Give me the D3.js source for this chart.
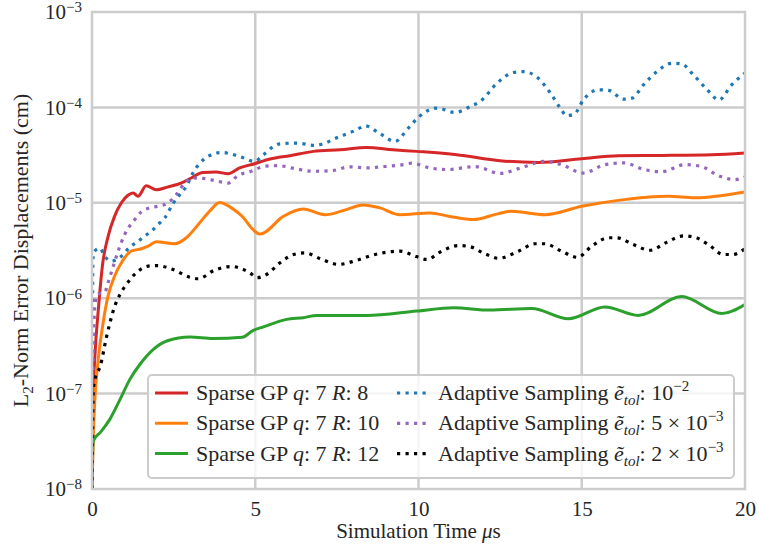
<!DOCTYPE html>
<html>
<head>
<meta charset="UTF-8">
<script src="https://d3js.org/d3.v7.min.js"></script>
</head>
<body style="margin:0">
<svg id="chart" width="757" height="548" font-family="Liberation Serif"></svg>
<script>
// --- data (t in µs, error in cm) ---
const sparseR8 = [[0,1e-8],[0.04,1e-7],[0.09,2.5e-7],[0.2,8e-7],[0.32,2.2e-6],[0.49,4.4e-6],[0.69,7.2e-6],[0.9,1.0e-5],[1.1,1.2e-5],[1.26,1.27e-5],[1.41,1.17e-5],[1.66,1.51e-5],[1.97,1.37e-5],[2.33,1.47e-5],[2.73,1.61e-5],[3.04,1.82e-5],[3.4,2.08e-5],[3.8,2.1e-5],[4.17,2.02e-5],[4.52,2.32e-5],[4.98,2.57e-5],[5.45,2.88e-5],[6.06,3.12e-5],[6.78,3.46e-5],[7.6,3.6e-5],[8.41,3.81e-5],[9.22,3.6e-5],[9.94,3.46e-5],[11.17,3.19e-5],[12.5,2.76e-5],[13.67,2.65e-5],[15.0,2.9e-5],[16.12,3.12e-5],[17.45,3.14e-5],[18.98,3.19e-5],[20,3.33e-5]];
const sparseR10 = [[0,1e-8],[0.04,3.5e-8],[0.09,9e-8],[0.18,2.1e-7],[0.34,5.5e-7],[0.49,1.05e-6],[0.69,1.7e-6],[0.9,2.35e-6],[1.2,3.11e-6],[1.51,3.3e-6],[1.72,3.51e-6],[1.97,3.9e-6],[2.53,3.72e-6],[2.89,4.3e-6],[3.25,5.9e-6],[3.6,8.15e-6],[3.91,1.01e-5],[4.27,8.85e-6],[4.62,7.1e-6],[4.93,5.25e-6],[5.15,4.7e-6],[5.86,7.2e-6],[6.47,8.6e-6],[7.14,7.5e-6],[7.7,8.3e-6],[8.31,9.5e-6],[8.82,8.85e-6],[9.43,7.5e-6],[10.35,7.83e-6],[10.96,7.2e-6],[11.68,6.67e-6],[12.45,7.7e-6],[12.85,8.15e-6],[13.87,7.5e-6],[15.0,9.2e-6],[16.12,1.06e-5],[17.65,1.17e-5],[18.47,1.13e-5],[20,1.3e-5]];
const sparseR12 = [[0,1e-8],[0.03,3e-8],[0.07,3.33e-8],[0.25,3.9e-8],[0.55,5.4e-8],[0.86,8.7e-8],[1.16,1.41e-7],[1.47,2.03e-7],[1.88,2.91e-7],[2.29,3.56e-7],[3.0,3.92e-7],[3.71,3.77e-7],[4.6,3.9e-7],[4.94,4.6e-7],[5.25,5e-7],[5.96,6.0e-7],[6.47,6.25e-7],[6.88,6.6e-7],[8.41,6.6e-7],[9.94,7.33e-7],[11.07,7.96e-7],[12.19,7.5e-7],[13.47,7.8e-7],[14.59,6.1e-7],[15.71,8.1e-7],[16.73,6.6e-7],[18.06,1.04e-6],[19.29,6.9e-7],[20,8.6e-7]];
const adaptive1e2 = [[0,1e-8],[0.03,2.6e-6],[0.08,3.11e-6],[0.24,3.35e-6],[0.39,2.75e-6],[0.59,2.45e-6],[0.9,2.75e-6],[1.15,3.42e-6],[1.41,3.95e-6],[1.61,4.47e-6],[1.82,5.04e-6],[2.02,5.9e-6],[2.23,6.95e-6],[2.48,9.8e-6],[2.69,1.22e-5],[2.89,1.49e-5],[3.09,2.05e-5],[3.45,2.9e-5],[3.96,3.37e-5],[4.52,3.06e-5],[4.98,2.72e-5],[5.25,3.19e-5],[5.71,4.13e-5],[6.27,4.23e-5],[6.83,4.0e-5],[7.6,4.97e-5],[8.11,5.83e-5],[8.36,6.43e-5],[8.82,5.3e-5],[9.28,4.4e-5],[9.69,6.07e-5],[10.05,8.17e-5],[10.56,9.84e-5],[11.12,8.85e-5],[11.63,1.04e-4],[11.88,1.15e-4],[12.44,1.84e-4],[12.9,2.32e-4],[13.21,2.37e-4],[13.67,2.02e-4],[14.03,1.43e-4],[14.33,1.0e-4],[14.54,8.2e-5],[14.77,8.5e-5],[15.05,1.2e-4],[15.51,1.53e-4],[15.82,1.51e-4],[16.28,1.22e-4],[16.54,1.25e-4],[16.89,1.72e-4],[17.3,2.37e-4],[17.76,2.9e-4],[18.06,2.86e-4],[18.42,2.19e-4],[18.83,1.55e-4],[19.2,1.2e-4],[19.59,1.72e-4],[20,2.3e-4]];
const adaptive5e3 = [[0,1e-8],[0.04,3e-7],[0.1,9e-7],[0.18,1.1e-6],[0.39,1.15e-6],[0.49,1.45e-6],[0.59,1.85e-6],[0.8,3.11e-6],[1.0,4.65e-6],[1.31,6.67e-6],[1.51,8.03e-6],[1.77,8.85e-6],[2.02,9.2e-6],[2.33,1.0e-5],[2.58,1.22e-5],[2.84,1.61e-5],[3.09,1.82e-5],[3.4,1.8e-5],[3.86,1.68e-5],[4.17,1.61e-5],[4.47,1.93e-5],[4.88,2.14e-5],[5.3,2.42e-5],[5.71,2.45e-5],[6.22,2.28e-5],[6.78,2.14e-5],[7.34,2.17e-5],[7.9,2.38e-5],[8.41,2.32e-5],[8.97,2.4e-5],[9.53,2.51e-5],[9.79,2.6e-5],[10.35,2.32e-5],[10.91,2.23e-5],[11.48,2.36e-5],[11.73,2.4e-5],[12.5,2.03e-5],[13.06,2.28e-5],[13.87,2.72e-5],[14.38,2.51e-5],[15.05,2.05e-5],[15.71,2.51e-5],[16.28,2.62e-5],[16.94,2.22e-5],[17.45,2.12e-5],[18.16,2.51e-5],[18.67,2.4e-5],[19.18,1.93e-5],[19.69,1.75e-5],[20,1.87e-5]];
const adaptive2e3 = [[0,1e-8],[0.04,1.1e-7],[0.09,1.41e-7],[0.25,1.93e-7],[0.45,4.0e-7],[0.7,8.3e-7],[0.86,1.1e-6],[1.05,1.39e-6],[1.41,1.92e-6],[1.72,2.17e-6],[1.97,2.2e-6],[2.48,2.0e-6],[2.99,1.66e-6],[3.25,1.6e-6],[3.76,1.97e-6],[4.27,2.15e-6],[4.83,1.85e-6],[5.06,1.64e-6],[5.34,1.77e-6],[5.76,2.35e-6],[6.17,2.87e-6],[6.52,2.98e-6],[7.04,2.55e-6],[7.55,2.26e-6],[8.11,2.5e-6],[8.67,2.87e-6],[9.43,3.11e-6],[9.94,2.73e-6],[10.25,2.55e-6],[10.71,3.11e-6],[11.22,3.56e-6],[11.53,3.5e-6],[12.04,2.92e-6],[12.45,2.62e-6],[13.06,3.11e-6],[13.57,3.72e-6],[13.87,3.72e-6],[14.38,3.11e-6],[14.87,2.68e-6],[15.3,3.5e-6],[15.82,4.3e-6],[16.07,4.3e-6],[16.58,3.65e-6],[17.09,3.18e-6],[17.6,3.85e-6],[18.11,4.5e-6],[18.42,4.4e-6],[18.88,3.65e-6],[19.34,2.87e-6],[19.62,2.87e-6],[20,3.3e-6]];

const xTicks = [0, 5, 10, 15, 20];
const yExponents = [-8, -7, -6, -5, -4, -3];

const series = [
    { data: sparseR8,    color: "#d62728", dotted: false, label: { q: "7", R: "8" } },
    { data: sparseR10,   color: "#ff7f0e", dotted: false, label: { q: "7", R: "10" } },
    { data: sparseR12,   color: "#2ca02c", dotted: false, label: { q: "7", R: "12" } },
    { data: adaptive1e2, color: "#1f77b4", dotted: true,  label: { mant: null, exp: "\u22122" } },
    { data: adaptive5e3, color: "#9467bd", dotted: true,  label: { mant: "5", exp: "\u22123" } },
    { data: adaptive2e3, color: "#000000", dotted: true,  label: { mant: "2", exp: "\u22123" } }
];

const FONT = "Liberation Serif";
const TEXT = "#262626";

const svg = d3.select("#chart"),
    margin = { top: 12, right: 12, bottom: 59, left: 92 },
    width = +svg.attr("width") - margin.left - margin.right,
    height = +svg.attr("height") - margin.top - margin.bottom;
const g = svg.append("g").attr("transform", `translate(${margin.left},${margin.top})`);

const x = d3.scaleLinear().domain([0, 20]).range([0, width]);
const y = d3.scaleLog().domain([1e-8, 1e-3]).range([height, 0]);

// grid
g.append("g").selectAll("line").data(xTicks.slice(1, -1)).join("line")
    .attr("x1", d => x(d)).attr("x2", d => x(d)).attr("y1", 0).attr("y2", height)
    .attr("stroke", "#cccccc").attr("stroke-width", 2.5);
g.append("g").selectAll("line").data(yExponents.slice(1, -1)).join("line")
    .attr("x1", 0).attr("x2", width).attr("y1", d => y(Math.pow(10, d))).attr("y2", d => y(Math.pow(10, d)))
    .attr("stroke", "#cccccc").attr("stroke-width", 2.5);

// axes
const xAxis = g.append("g").attr("transform", `translate(0,${height})`)
    .call(d3.axisBottom(x).tickValues(xTicks).tickSize(0).tickPadding(12).tickFormat(d3.format("d")));
xAxis.attr("font-family", FONT).select(".domain").remove();
xAxis.selectAll("text").attr("font-family", FONT).attr("font-size", 21).attr("fill", TEXT);

const yAxis = g.append("g")
    .call(d3.axisLeft(y).tickValues(yExponents.map(e => Math.pow(10, e))).tickSize(0).tickPadding(10).tickFormat(""));
yAxis.attr("font-family", FONT).select(".domain").remove();
yAxis.selectAll(".tick text").each(function (d) {
    const t = d3.select(this).attr("font-family", FONT).attr("font-size", 21).attr("fill", TEXT);
    t.append("tspan").text("10");
    t.append("tspan").attr("dy", "-0.45em").attr("font-size", 15).text("\u2212" + Math.abs(Math.round(Math.log10(d))));
});

// lines
g.append("clipPath").attr("id", "clip").append("rect").attr("width", width).attr("height", height);
const line = d3.line().x(d => x(d[0])).y(d => y(d[1])).curve(d3.curveMonotoneX);
g.append("g").attr("clip-path", "url(#clip)").selectAll("path").data(series).join("path")
    .attr("fill", "none")
    .attr("stroke", d => d.color)
    .attr("stroke-width", d => d.dotted ? 3.2 : 3)
    .attr("stroke-dasharray", d => d.dotted ? "3.2,5.3" : null)
    .attr("d", d => line(d.data));

// frame
g.append("rect").attr("width", width).attr("height", height)
    .attr("fill", "none").attr("stroke", "#cccccc").attr("stroke-width", 2.5);

// legend
const legend = svg.append("g").attr("transform", "translate(148,375)").attr("font-family", FONT);
legend.append("rect").attr("width", 586).attr("height", 103).attr("rx", 4)
    .attr("fill", "#fff").attr("fill-opacity", 0.8).attr("stroke", "#cccccc").attr("stroke-width", 2);
series.forEach((s, i) => {
    const col = i < 3 ? 0 : 1, row = i % 3;
    const hx = col === 0 ? 7 : 249, ly = 18 + row * 30.3;
    legend.append("line").attr("x1", hx).attr("x2", hx + 33).attr("y1", ly).attr("y2", ly)
        .attr("stroke", s.color).attr("stroke-width", s.dotted ? 3.2 : 3)
        .attr("stroke-dasharray", s.dotted ? "3.2,5.3" : null);
    const t = legend.append("text").attr("x", hx + 41).attr("y", ly + 7)
        .attr("font-family", FONT).attr("font-size", 22).attr("fill", TEXT);
    if (!s.dotted) {
        t.append("tspan").text("Sparse GP ");
        t.append("tspan").attr("font-style", "italic").text("q");
        t.append("tspan").text(": " + s.label.q + " ");
        t.append("tspan").attr("font-style", "italic").text("R");
        t.append("tspan").text(": " + s.label.R);
    } else {
        t.append("tspan").text("Adaptive Sampling ");
        t.append("tspan").attr("font-style", "italic").text("\u1EBD");
        t.append("tspan").attr("font-style", "italic").attr("font-size", 15).attr("dy", 5).text("tol");
        t.append("tspan").attr("dy", -5).text(": " + (s.label.mant ? s.label.mant + " \u00D7 " : "") + "10");
        t.append("tspan").attr("font-size", 15).attr("dy", -9).text(s.label.exp);
    }
});

// axis labels
const xl = svg.append("text").attr("x", margin.left + width / 2).attr("y", 538)
    .attr("text-anchor", "middle").attr("font-family", FONT).attr("font-size", 21).attr("fill", TEXT);
xl.append("tspan").text("Simulation Time ");
xl.append("tspan").attr("font-style", "italic").text("\u03BC");
xl.append("tspan").text("s");

const yl = svg.append("text").attr("transform", `translate(28,${margin.top + height / 2}) rotate(-90)`)
    .attr("text-anchor", "middle").attr("font-family", FONT).attr("font-size", 22).attr("fill", TEXT);
yl.append("tspan").text("L");
yl.append("tspan").attr("font-size", 15).attr("dy", 5).text("2");
yl.append("tspan").attr("dy", -5).text("-Norm Error Displacements (cm)");

svg.selectAll("text").style("font-family", '"Liberation Serif"');
</script>
</body>
</html>
